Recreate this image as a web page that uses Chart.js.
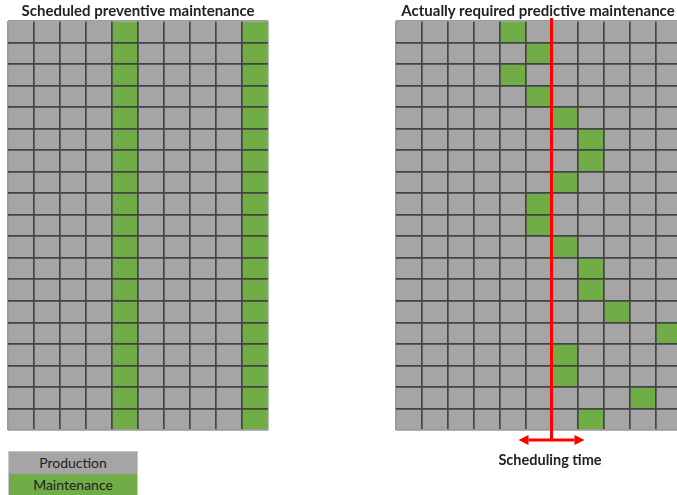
<!DOCTYPE html>
<html>
<head>
<meta charset="utf-8">
<script src="https://cdn.jsdelivr.net/npm/chart.js@4.4.1/dist/chart.umd.min.js"></script>
<style>
  html, body { margin: 0; padding: 0; background: #ffffff; overflow: hidden; }
  body { width: 677px; height: 495px; position: relative; font-family: Lato, 'Open Sans', sans-serif; }
  canvas { position: absolute; top: 0; }
  .title { position: absolute; top: 1px; font-weight: bold; font-size: 15px; color: #222222; text-align: center; white-space: nowrap; }
  .legend { position: absolute; left: 8px; top: 451px; width: 130px; border: 1px solid #c8c8c8; box-sizing: border-box; }
  .legend div { height: 21.5px; line-height: 21.5px; text-align: center; font-size: 14px; color: #222222; }
  .sched { position: absolute; left: 470px; width: 160px; top: 451px; text-align: center; font-weight: bold; font-size: 14.5px; color: #222222; }
</style>
</head>
<body>
<canvas id="leftChart" width="280" height="440" style="left:0px"></canvas>
<canvas id="rightChart" width="320" height="452" style="left:380px"></canvas>
<div class="title" style="left:8px;width:260px">Scheduled preventive maintenance</div>
<div class="title" style="left:395px;width:286px">Actually required predictive maintenance</div>
<div class="legend">
  <div style="background:#a5a5a5">Production</div>
  <div style="background:#70ad47">Maintenance</div>
</div>
<div class="sched">Scheduling time</div>
<script>
document.addEventListener('DOMContentLoaded', () => {

  const colors = {
    production: '#a5a5a5',
    maintenance: '#70ad47',
    line: '#444444',
    edge: '#9a9a9a',
    schedule: '#ff0000'
  };

  // machines (rows, top to bottom)
  const machines = ['M1', 'M2', 'M3', 'M4', 'M5', 'M6', 'M7', 'M8', 'M9', 'M10',
                    'M11', 'M12', 'M13', 'M14', 'M15', 'M16', 'M17', 'M18', 'M19'];
  // time slots (columns)
  const leftSlots = ['1', '2', '3', '4', '5', '6', '7', '8', '9', '10'];
  const rightSlots = ['1', '2', '3', '4', '5', '6', '7', '8', '9', '10', '11'];
  // slots where every machine gets scheduled maintenance
  const scheduledSlots = ['5', '10'];
  // slot where each machine actually needs maintenance
  const requiredSlots = ['5', '6', '5', '6', '7', '8', '8', '7', '6', '6',
                         '7', '8', '8', '9', '11', '7', '7', '10', '8'];
  // scheduling time sits right after this slot
  const schedulingAfter = '6';

  function buildDatasets(slots, isMaint) {
    return machines.map((m, row) => ({
      label: m,
      data: slots.map(() => 1),
      backgroundColor: (ctx) => isMaint(row, slots[ctx.dataIndex]) ? colors.maintenance : colors.production,
      borderWidth: 0,
      barPercentage: 1,
      categoryPercentage: 1
    }));
  }

  function gridColor(count) {
    return (ctx) => (ctx.index === undefined || ctx.index === 0 || ctx.index === count) ? colors.edge : colors.line;
  }

  function gridOptions(slots, padding, extraPlugins) {
    return {
      type: 'bar',
      data: {
        labels: slots,
        datasets: buildDatasets(slots, slots === leftSlots
          ? (row, slot) => scheduledSlots.includes(slot)
          : (row, slot) => requiredSlots[row] === slot)
      },
      options: {
        responsive: false,
        animation: false,
        layout: { padding: padding },
        plugins: { legend: { display: false }, tooltip: { enabled: false } },
        scales: {
          x: {
            stacked: true,
            offset: true,
            grid: { offset: true, z: 1, drawTicks: false, lineWidth: 1.7, color: gridColor(slots.length) },
            border: { display: false },
            ticks: { display: false }
          },
          y: {
            stacked: true,
            reverse: true,
            min: 0,
            max: machines.length,
            grid: { z: 1, drawTicks: false, lineWidth: 1.7, color: gridColor(machines.length) },
            border: { display: false },
            ticks: { display: false, stepSize: 1 }
          }
        }
      },
      plugins: extraPlugins || []
    };
  }

  const schedulingLine = {
    id: 'schedulingLine',
    afterDraw(chart) {
      const { ctx, chartArea, scales } = chart;
      const i = rightSlots.indexOf(schedulingAfter);
      const x = (scales.x.getPixelForValue(i) + scales.x.getPixelForValue(i + 1)) / 2;
      const y = chartArea.bottom + 10;
      const half = 33, head = 10, wing = 5;
      ctx.save();
      ctx.strokeStyle = colors.schedule;
      ctx.fillStyle = colors.schedule;
      ctx.lineWidth = 3;
      ctx.beginPath();
      ctx.moveTo(x, chartArea.top - 3);
      ctx.lineTo(x, y);
      ctx.moveTo(x - half + head, y);
      ctx.lineTo(x + half - head, y);
      ctx.stroke();
      [-1, 1].forEach(dir => {
        ctx.beginPath();
        ctx.moveTo(x + dir * half, y);
        ctx.lineTo(x + dir * (half - head), y - wing);
        ctx.lineTo(x + dir * (half - head), y + wing);
        ctx.closePath();
        ctx.fill();
      });
      ctx.restore();
    }
  };

  new Chart(document.getElementById('leftChart'),
    gridOptions(leftSlots, { left: 8, top: 21, right: 12, bottom: 10 }));

  new Chart(document.getElementById('rightChart'),
    gridOptions(rightSlots, { left: 15.5, top: 21, right: 18.5, bottom: 22 }, [schedulingLine]));

});
</script>
</body>
</html>
